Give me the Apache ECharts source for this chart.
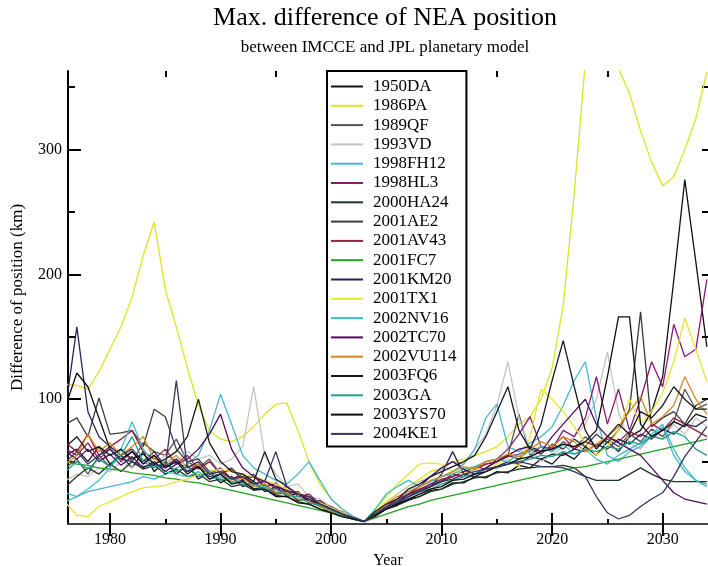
<!DOCTYPE html>
<html>
<head>
<meta charset="utf-8">
<title>Max. difference of NEA position</title>
<script src="https://cdn.jsdelivr.net/npm/echarts@6/dist/echarts.min.js"></script>
<style>
  html, body { margin: 0; padding: 0; background: #fff; }
  #myChart { width: 708px; height: 567px; }
</style>
</head>
<body>
<div id="myChart"></div>
<script>
// one point per year, 1976 .. 2034
const years = [
  1976, 1977, 1978, 1979, 1980, 1981, 1982, 1983, 1984, 1985,
  1986, 1987, 1988, 1989, 1990, 1991, 1992, 1993, 1994, 1995,
  1996, 1997, 1998, 1999, 2000, 2001, 2002, 2003, 2004, 2005,
  2006, 2007, 2008, 2009, 2010, 2011, 2012, 2013, 2014, 2015,
  2016, 2017, 2018, 2019, 2020, 2021, 2022, 2023, 2024, 2025,
  2026, 2027, 2028, 2029, 2030, 2031, 2032, 2033, 2034
];

// tick labels
const xTicks = [1980, 1990, 2000, 2010, 2020, 2030];
const xMinorTicks = [1985, 1995, 2005, 2015, 2025];
const yTicks = [100, 200, 300];
const yMinorTicks = [50, 150, 250, 350];
const yRightTicks = [50, 100, 150, 200, 250, 300, 350];

// max difference (km) per asteroid
const d1950DA = [
  55, 60, 50, 62, 48, 55, 45, 58, 42, 50,
  40, 47, 36, 42, 33, 38, 30, 34, 26, 30,
  22, 25, 17, 19, 12, 10, 6, 2, 6, 12,
  15, 20, 22, 27, 28, 33, 33, 38, 37, 42,
  41, 47, 45, 52, 48, 57, 52, 62, 55, 66,
  58, 70, 75, 90, 118, 195, 276, 210, 142
];
const d1986PA = [
  112, 111, 108, 122, 140, 158, 182, 215, 242, 188,
  158, 125, 95, 75, 68, 66, 70, 78, 88, 96,
  97, 75, 50, 32, 20, 12, 6, 2, 10, 18,
  24, 30, 36, 42, 45, 50, 52, 55, 58, 62,
  70, 80, 86, 100, 125, 175, 265, 370, 420, 400,
  365, 345, 315, 290, 271, 278, 300, 325, 362
];
const d1989QF = [
  45, 52, 40, 55, 46, 60, 50, 65, 58, 55,
  68, 50, 45, 52, 40, 45, 36, 40, 30, 33,
  25, 26, 18, 19, 12, 9, 5, 2, 8, 13,
  18, 22, 28, 30, 35, 38, 42, 45, 50, 52,
  55, 88, 55, 62, 58, 66, 60, 70, 62, 68,
  62, 72, 66, 76, 70, 82, 108, 92, 96
];
const d1993VD = [
  35, 40, 38, 45, 42, 50, 45, 52, 48, 55,
  50, 58, 52, 55, 48, 52, 62, 110, 55, 40,
  30, 32, 22, 20, 14, 10, 6, 2, 10, 16,
  24, 30, 34, 38, 44, 50, 48, 60, 72, 95,
  130, 85, 60, 50, 55, 62, 70, 80, 100, 138,
  90, 65, 60, 72, 68, 80, 72, 85, 78
];
const d1998FH12 = [
  18, 22, 26, 28, 30, 32, 34, 38, 36, 40,
  45, 48, 55, 75, 104, 80, 55, 45, 40, 35,
  32, 40, 50, 35, 20, 12, 6, 2, 8, 14,
  20, 26, 30, 34, 38, 42, 48, 60, 85, 96,
  62, 58, 65, 70, 78, 95, 115, 130, 85, 55,
  50, 58, 62, 70, 78, 55, 42, 35, 32
];
const d1998HL3 = [
  60, 55, 65, 52, 60, 50, 58, 48, 55, 45,
  52, 42, 48, 40, 45, 36, 40, 32, 35, 28,
  30, 22, 24, 16, 14, 9, 5, 2, 7, 12,
  16, 22, 26, 30, 34, 40, 38, 46, 44, 52,
  60, 72, 86, 62, 60, 75, 70, 85, 118, 80,
  108, 75, 100, 130, 110, 160, 134, 140, 196
];
const d2000HA24 = [
  30, 38, 45, 40, 48, 42, 50, 44, 47, 40,
  44, 38, 40, 34, 36, 30, 32, 27, 28, 23,
  22, 18, 16, 12, 10, 7, 4, 2, 7, 12,
  15, 19, 22, 26, 28, 32, 34, 37, 38, 41,
  42, 44, 45, 46, 46, 47, 45, 38, 35, 35,
  35, 40, 45, 40, 36, 34, 34, 34, 34
];
const d2001AE2 = [
  80, 85, 70, 101, 72, 73, 75, 62, 92, 86,
  60, 50, 52, 42, 44, 36, 38, 30, 32, 25,
  26, 19, 20, 14, 12, 8, 5, 2, 8, 14,
  18, 24, 27, 32, 34, 38, 42, 44, 48, 50,
  55, 52, 60, 56, 64, 60, 68, 62, 72, 65,
  75, 92, 170, 78, 85, 90, 80, 95, 100
];
const d2001AV43 = [
  65, 58, 72, 55, 62, 68, 75, 58, 52, 60,
  48, 55, 44, 50, 40, 44, 35, 38, 30, 32,
  24, 26, 18, 18, 12, 8, 5, 2, 9, 14,
  20, 24, 28, 32, 36, 38, 42, 44, 48, 50,
  54, 56, 60, 58, 62, 70, 60, 66, 62, 70,
  66, 74, 70, 80, 75, 85, 80, 75, 70
];
const d2001FC7 = [
  50, 48, 47, 45, 44, 43, 41, 40, 39, 37,
  36, 34, 33, 31, 29, 27, 25, 23, 21, 19,
  17, 15, 13, 11, 9, 6, 4, 2, 5, 8,
  11, 14, 16, 19, 21, 23, 25, 27, 29, 31,
  33, 35, 37, 39, 41, 43, 45, 46, 48, 50,
  52, 54, 56, 58, 60, 62, 64, 66, 68
];
const d2001KM20 = [
  94, 158, 90, 70, 62, 55, 60, 50, 58, 46,
  52, 42, 46, 38, 40, 33, 35, 28, 30, 24,
  25, 19, 20, 14, 12, 8, 5, 2, 8, 12,
  17, 22, 26, 30, 40, 58, 40, 38, 42, 46,
  50, 48, 54, 52, 56, 55, 60, 58, 64, 60,
  68, 64, 72, 68, 76, 72, 80, 78, 84
];
const d2001TX1 = [
  17, 7, 6, 14, 18, 22, 26, 29, 30, 31,
  34, 36, 40, 42, 44, 42, 40, 38, 35, 32,
  28, 25, 21, 17, 13, 9, 5, 2, 12, 22,
  32, 40, 48, 49, 48, 42, 40, 45, 42, 48,
  52, 46, 70, 108, 100, 90, 78, 65, 55, 62,
  75, 100, 80, 90, 105, 130, 165, 140, 114
];
const d2002NV16 = [
  25, 22, 28, 35, 45, 60, 82, 60, 48, 42,
  40, 38, 42, 36, 38, 33, 34, 30, 30, 26,
  25, 20, 18, 14, 11, 7, 4, 2, 12, 24,
  30, 35, 30, 34, 38, 40, 44, 46, 50, 52,
  50, 56, 58, 62, 58, 64, 56, 60, 52, 48,
  55, 60, 65, 72, 80, 60, 45, 35, 30
];
const d2002TC70 = [
  58, 52, 60, 50, 56, 47, 54, 45, 50, 42,
  48, 52, 60, 72, 88, 60, 45, 38, 34, 30,
  27, 24, 20, 16, 12, 8, 5, 2, 8, 13,
  18, 24, 30, 38, 45, 50, 44, 40, 45, 50,
  55, 60, 62, 58, 70, 80, 90, 100, 80, 70,
  65, 60, 55, 45, 35, 25, 20, 18, 16
];
const d2002VU114 = [
  48, 55, 72, 58, 65, 55, 62, 70, 52, 48,
  55, 45, 48, 40, 42, 34, 37, 30, 32, 25,
  25, 20, 18, 14, 10, 7, 4, 2, 9, 16,
  22, 26, 30, 35, 38, 42, 46, 44, 50, 52,
  56, 54, 60, 66, 62, 70, 66, 58, 64, 70,
  78, 90, 102, 80, 86, 95, 118, 100, 88
];
const d2003FQ6 = [
  62, 70, 58, 62, 55, 60, 52, 56, 48, 52,
  58, 70, 100, 65, 50, 42, 40, 34, 58, 36,
  30, 24, 22, 16, 12, 8, 5, 2, 10, 16,
  20, 28, 32, 38, 42, 46, 50, 55, 70, 90,
  110, 75, 60, 80, 115, 147, 110, 75, 60, 70,
  80, 72, 90, 85, 95, 110, 100, 92, 92
];
const d2003GA = [
  42, 50, 44, 52, 46, 55, 70, 50, 45, 50,
  42, 46, 38, 42, 35, 37, 31, 33, 27, 28,
  23, 22, 17, 15, 11, 7, 4, 2, 8, 13,
  18, 22, 26, 28, 32, 35, 38, 40, 44, 45,
  48, 50, 52, 55, 54, 58, 56, 60, 58, 62,
  60, 66, 64, 70, 68, 74, 70, 60, 55
];
const d2003YS70 = [
  95, 121, 110, 85, 60, 52, 58, 48, 55, 45,
  50, 40, 46, 36, 40, 32, 34, 28, 28, 22,
  22, 17, 16, 12, 9, 6, 4, 2, 7, 12,
  16, 20, 24, 28, 30, 35, 36, 40, 42, 46,
  48, 52, 54, 58, 60, 64, 62, 66, 75, 118,
  166, 166, 80, 70, 75, 82, 78, 88, 85
];
const d2004KE1 = [
  50, 58, 48, 55, 60, 52, 50, 46, 48, 45,
  115, 45, 50, 40, 42, 36, 38, 32, 34, 58,
  30, 24, 22, 16, 12, 8, 5, 2, 8, 13,
  18, 22, 26, 30, 34, 36, 40, 42, 44, 46,
  48, 50, 48, 46, 46, 45, 42, 38, 22, 9,
  4, 7, 14, 20, 25, 38, 54, 66, 78
];

const names = [
  "1950DA", "1986PA", "1989QF", "1993VD", "1998FH12", "1998HL3", "2000HA24",
  "2001AE2", "2001AV43", "2001FC7", "2001KM20", "2001TX1", "2002NV16",
  "2002TC70", "2002VU114", "2003FQ6", "2003GA", "2003YS70", "2004KE1"
];
const values = [
  d1950DA, d1986PA, d1989QF, d1993VD, d1998FH12, d1998HL3, d2000HA24,
  d2001AE2, d2001AV43, d2001FC7, d2001KM20, d2001TX1, d2002NV16,
  d2002TC70, d2002VU114, d2003FQ6, d2003GA, d2003YS70, d2004KE1
];
const colors = [
  "#111111", "#dfe21e", "#555555", "#c4c4c4", "#4ab4d4", "#8a1a78", "#1e3524",
  "#3c3c3c", "#9c1f3f", "#22a022", "#24245a", "#e6e632", "#3cc0c4",
  "#4e0c5c", "#d48a1e", "#1a1a1a", "#22a08c", "#0d0d0d", "#34345e"
];

const FONT = "'Liberation Serif', 'DejaVu Serif', serif";
const XMIN = 1976.2, XMAX = 2034.1;
const YMIN = 0, YMAX = 363;

let chart = echarts.init(document.getElementById("myChart"));

let series = names.map(function (n, i) {
  return {
    name: n,
    type: "line",
    color: colors[i],
    showSymbol: false,
    clip: true,
    lineStyle: { width: 1.3, color: colors[i] },
    data: years.map(function (y, k) { return [y, values[i][k]]; })
  };
});

// one axis per tick size, the box is drawn with their lines
function xTickAxis(pos, ticks, len, line) {
  return {
    type: "value", position: pos, min: XMIN, max: XMAX,
    axisLine: line ? { show: true, lineStyle: line } : { show: false },
    axisTick: { show: true, inside: true, length: len, customValues: ticks,
      lineStyle: { color: "#000", width: 2 } },
    axisLabel: { show: false },
    splitLine: { show: false }
  };
}
function yTickAxis(pos, ticks, len) {
  return {
    type: "value", position: pos, min: YMIN, max: YMAX,
    axisLine: { show: false },
    axisTick: { show: true, inside: true, length: len, customValues: ticks,
      lineStyle: { color: "#000", width: 2 } },
    axisLabel: { show: false },
    splitLine: { show: false }
  };
}

let option = {
  animation: false,
  backgroundColor: "#fff",
  title: {
    text: "Max. difference of NEA position",
    subtext: "between IMCCE and JPL planetary model",
    left: 380,
    textAlign: "center",
    top: 0,
    itemGap: 8,
    textStyle: { fontFamily: FONT, fontSize: 26, fontWeight: "normal", color: "#000" },
    subtextStyle: { fontFamily: FONT, fontSize: 17, color: "#000" }
  },
  legend: {
    data: names,
    orient: "vertical",
    left: 327,
    top: 71,
    icon: "rect",
    itemWidth: 32,
    itemHeight: 2,
    itemGap: 2.3,
    padding: [7, 10, 4, 4],
    backgroundColor: "#fff",
    borderColor: "#000",
    borderWidth: 2,
    selectedMode: false,
    textStyle: { fontFamily: FONT, fontSize: 17, lineHeight: 17, color: "#000", padding: [0, 0, 0, 5] }
  },
  grid: { left: 68, right: 0, top: 71, bottom: 43, outerBoundsMode: "none", containLabel: false },
  xAxis: [
    {
      type: "value", position: "bottom", min: XMIN, max: XMAX,
      name: "Year", nameLocation: "middle", nameGap: 26,
      nameTextStyle: { fontFamily: FONT, fontSize: 16, color: "#000" },
      axisLine: { lineStyle: { color: "#000", width: 2 } },
      axisTick: { inside: true, length: 11, customValues: xTicks, lineStyle: { color: "#000", width: 2 } },
      axisLabel: {
        customValues: xTicks, margin: 8, fontFamily: FONT, fontSize: 16, color: "#000",
        formatter: function (v) { return String(v); }
      },
      splitLine: { show: false }
    },
    xTickAxis("bottom", xMinorTicks, 5, null),
    xTickAxis("top", xTicks, 12, { color: "#444", width: 2 }),
    xTickAxis("top", xMinorTicks, 6, null)
  ],
  yAxis: [
    {
      type: "value", position: "left", min: YMIN, max: YMAX,
      name: "Difference of position (km)", nameLocation: "middle", nameGap: 42,
      nameTextStyle: { fontFamily: FONT, fontSize: 17, color: "#000" },
      axisLine: { lineStyle: { color: "#000", width: 2 } },
      axisTick: { inside: true, length: 13, customValues: yTicks, lineStyle: { color: "#000", width: 2 } },
      axisLabel: { customValues: yTicks, margin: 6, fontFamily: FONT, fontSize: 16, color: "#000" },
      splitLine: { show: false }
    },
    yTickAxis("left", yMinorTicks, 7),
    yTickAxis("right", yRightTicks, 6)
  ],
  series: series
};

chart.setOption(option);
</script>
</body>
</html>
